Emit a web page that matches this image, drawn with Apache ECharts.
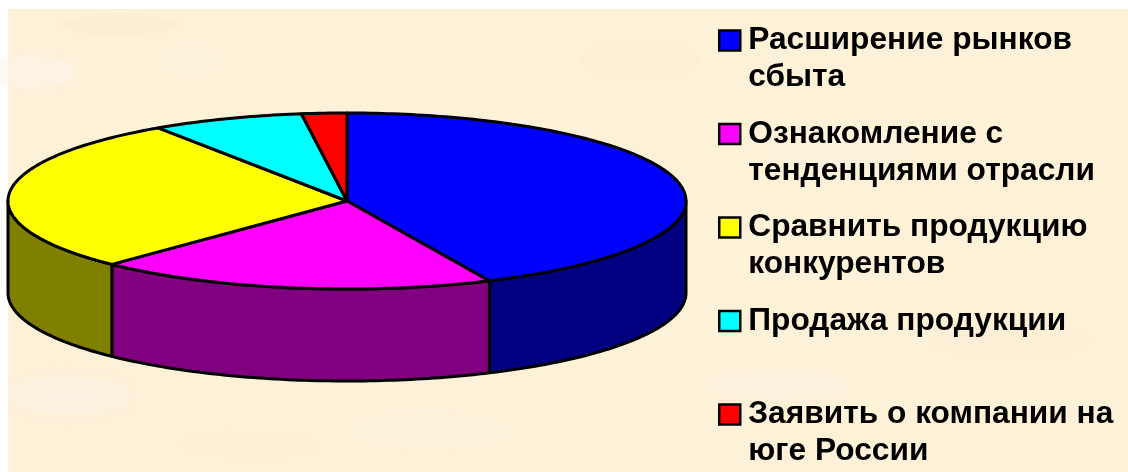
<!DOCTYPE html>
<html>
<head>
<meta charset="utf-8">
<script src="https://cdn.jsdelivr.net/npm/echarts@6/dist/echarts.min.js"></script>
<style>
html, body { margin: 0; padding: 0; background: #fff; }
#chart { width: 1128px; height: 472px; }
</style>
</head>
<body>
<div id="chart"></div>
<script>
var chart = echarts.init(document.getElementById('chart'));

// legend labels, the blank second line of "Продажа" is in the original
var names = [
    'Расширение рынков\nсбыта',
    'Ознакомление с\nтенденциями отрасли',
    'Сравнить продукцию\nконкурентов',
    'Продажа продукции\n ',
    'Заявить о компании на\nюге России'
];
var values = [43.1, 19.1, 28.4, 7.25, 2.15];
var topColors = ['#0000ff', '#ff00ff', '#ffff00', '#00ffff', '#ff0000'];
var sideColors = ['#000080', '#800080', '#808000', '#008080', '#800000'];

var cx = 347, cy = 201, rx = 339, ry = 88, depth = 92;
var total = values.reduce(function (a, b) { return a + b; }, 0);

// angle in degrees, 0 at top of the ellipse, going clockwise
function pt(deg, dy) {
    var a = deg * Math.PI / 180;
    return [cx + rx * Math.sin(a), cy - ry * Math.cos(a) + (dy || 0)];
}

function arc(from, to, dy) {
    var pts = [];
    var n = Math.max(2, Math.ceil(Math.abs(to - from)));
    for (var i = 0; i <= n; i++) {
        pts.push(pt(from + (to - from) * i / n, dy));
    }
    return pts;
}

function sliceItem(index) {
    return function (params, api) {
        var before = 0;
        for (var i = 0; i < index; i++) before += values[i];
        var start = before / total * 360;
        var end = start + api.value(0) / total * 360;
        var lineStyle = { stroke: '#000', lineWidth: 3, lineJoin: 'round' };
        var children = [];
        // the wall only shows on the front half of the disc
        var wallFrom = Math.max(start, 90), wallTo = Math.min(end, 270);
        if (wallTo > wallFrom) {
            children.push({
                type: 'polygon',
                shape: { points: arc(wallFrom, wallTo, 0).concat(arc(wallTo, wallFrom, depth)) },
                style: Object.assign({ fill: sideColors[index] }, lineStyle)
            });
        }
        children.push({
            type: 'polygon',
            shape: { points: [[cx, cy]].concat(arc(start, end, 0)) },
            style: Object.assign({ fill: topColors[index] }, lineStyle)
        });
        return { type: 'group', children: children };
    };
}

// soft blotches of the parchment background: x, y, rx, ry, colour
var blotches = [
    [30, 72, 45, 16, 'rgba(255,245,238,0.45)'],
    [190, 60, 30, 14, 'rgba(255,246,230,0.3)'],
    [120, 25, 60, 10, 'rgba(248,232,200,0.2)'],
    [70, 395, 60, 18, 'rgba(253,243,232,0.5)'],
    [430, 430, 80, 18, 'rgba(255,244,225,0.3)'],
    [640, 60, 60, 18, 'rgba(250,236,205,0.2)'],
    [840, 150, 70, 16, 'rgba(255,245,228,0.3)'],
    [1010, 340, 80, 18, 'rgba(250,236,205,0.2)'],
    [780, 385, 70, 14, 'rgba(255,246,232,0.3)'],
    [250, 445, 70, 12, 'rgba(249,233,205,0.2)']
];

var graphics = [{
    type: 'rect',
    silent: true,
    z: -10,
    shape: { x: 8, y: 9, width: 1120, height: 463 },
    style: { fill: '#fdf1d8' }
}];
blotches.forEach(function (b) {
    graphics.push({
        type: 'ellipse',
        silent: true,
        z: -9,
        shape: { cx: b[0], cy: b[1], rx: b[2], ry: b[3] },
        style: { fill: b[4], shadowBlur: 18, shadowColor: b[4] }
    });
});

var option = {
    animation: false,
    backgroundColor: '#fff',
    graphic: graphics,
    legend: {
        orient: 'vertical',
        left: 718,
        top: -15,
        height: 1000,
        padding: 0,
        itemWidth: 21,
        itemHeight: 20,
        itemGap: -17.5,
        icon: 'rect',
        selectedMode: false,
        itemStyle: { borderColor: '#000', borderWidth: 2.5 },
        // blank first line keeps the marker level with the first text line
        formatter: function (name) {
            return ' \n' + name;
        },
        textStyle: {
            fontFamily: '"Liberation Sans", Arial, sans-serif',
            fontWeight: 'bold',
            fontSize: 31.7,
            lineHeight: 37,
            color: '#000',
            padding: [0, 0, 0, 3]
        },
        data: names
    },
    series: names.map(function (name, i) {
        return {
            name: name,
            type: 'custom',
            coordinateSystem: 'none',
            itemStyle: { color: topColors[i] },
            renderItem: sliceItem(i),
            data: [[values[i]]]
        };
    })
};
chart.setOption(option);
</script>
</body>
</html>
